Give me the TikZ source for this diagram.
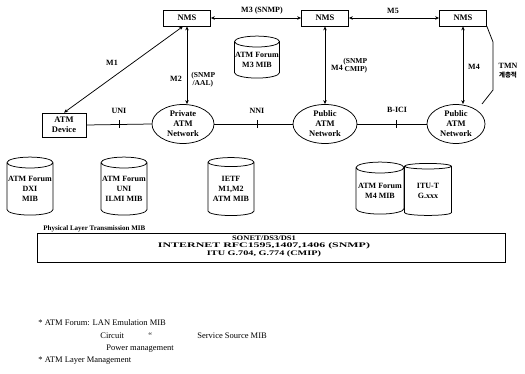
\documentclass[tikz,border=0pt]{standalone}
\usepackage{fontspec}
\usepackage{graphicx}
\setmainfont{Liberation Serif}
\newfontfamily\krfont{Noto Sans CJK KR}
\usetikzlibrary{shapes.geometric,arrows.meta,calc}
\begin{document}
\begin{tikzpicture}[x=1pt,y=-1pt,line width=0.75pt,
  lbl/.style={font=\fontsize{8}{8}\selectfont\bfseries,inner sep=0pt,align=center},
  small/.style={font=\fontsize{7.5}{8}\selectfont\bfseries,inner sep=0pt,align=left},
  nms/.style={draw,minimum width=47pt,minimum height=16pt,inner sep=0pt,font=\fontsize{8.5}{10}\selectfont\bfseries},
  dev/.style={draw,minimum width=44pt,minimum height=24pt,inner sep=0pt,align=center,font=\fontsize{8.5}{10}\selectfont\bfseries},
  net/.style={draw,ellipse,minimum height=39pt,inner sep=0pt,align=center,font=\fontsize{8.5}{10}\selectfont\bfseries},
  db/.style={draw,cylinder,shape border rotate=90,aspect=0.25,minimum width=46pt,minimum height=58pt,inner sep=0pt,align=center,font=\fontsize{8}{10}\selectfont\bfseries},
  biarrow/.style={{Stealth[length=4pt,width=3.5pt]}-{Stealth[length=4pt,width=3.5pt]}},
  body/.style={font=\fontsize{8.5}{10}\selectfont,inner sep=0pt,anchor=base west}
]
\useasboundingbox (0,0) rectangle (525,374);

% NMS boxes
\node[nms] (nms1) at (187,18) {NMS};
\node[nms] (nms2) at (325,18) {NMS};
\node[nms] (nms3) at (463,18) {NMS};

% devices and networks
\node[dev] (atm) at (64,125) {ATM\\Device};
\node[net,minimum width=62pt] (priv) at (183,124) {Private\\ATM\\Network};
\node[net,minimum width=64pt] (pub1) at (325,124) {Public\\ATM\\Network};
\node[net,minimum width=58pt] (pub2) at (456,124) {Public\\ATM\\Network};

% management links
\draw[biarrow] (nms1) -- (nms2);
\node[lbl] (m3l) at (262,11) {M3 (SNMP)};
\draw[biarrow] (nms2) -- (nms3);
\node[lbl] (m5l) at (393,11) {M5};
\draw[biarrow] ([xshift=-4pt]nms1.south) -- (atm.north);
\node[lbl] (m1l) at (112,63) {M1};
\draw[biarrow] (nms1.south) -- (priv.north -| nms1.south);
\node[lbl] (m2l) at (176,79) {M2};
\node[small,anchor=west] (m2p) at (191,80) {(SNMP\\\,/AAL)};
\draw[biarrow] (nms2.south) -- (pub1.north);
\node[lbl] (m4l) at (337,68) {M4};
\node[small,anchor=west] (m4p) at (343,66) {(SNMP\\\,CMIP)};
\draw[biarrow] (nms3.south) -- (pub2.north -| nms3.south);
\node[lbl] (m4r) at (474,67) {M4};

% TMN bracket
\coordinate (tb1) at (493,42);
\coordinate (tb2) at (493,90);
\coordinate (tb3) at (482,104);
\draw (nms3.south east) -- (tb1) -- (tb2) -- (tb3);
\node[lbl] (tmn) at (508,66) {TMN};
\node[inner sep=0pt,font=\krfont\fontsize{6.5}{7}\selectfont\bfseries] (tmnk) at (508,75) {계층적};

% interfaces
\draw (atm.east) -- (priv.west);
\draw (priv.east) -- (pub1.west);
\draw (pub1.east) -- (pub2.west);
\coordinate (k1) at ($(atm.east)!0.5!(priv.west)$);
\coordinate (k2) at ($(priv.east)!0.55!(pub1.west)$);
\coordinate (k3) at ($(pub1.east)!0.57!(pub2.west)$);
\draw ([yshift=4pt]k1) -- ([yshift=-4pt]k1);
\draw ([yshift=4pt]k2) -- ([yshift=-4pt]k2);
\draw ([yshift=4pt]k3) -- ([yshift=-4pt]k3);
\node[lbl] (unil) at (119,111) {UNI};
\node[lbl] (nnil) at (257,111) {NNI};
\node[lbl] (bicil) at (397,110) {B-ICI};

% MIB databases
\node[db,minimum width=45pt,minimum height=42pt] (m3mib) at (257,60) {ATM Forum\\M3 MIB};
\node[db] (dxi) at (30,189) {ATM Forum\\DXI\\MIB};
\node[db] (ilmi) at (124,189) {ATM Forum\\UNI\\ILMI MIB};
\node[db] (ietf) at (231,189) {IETF\\M1,M2\\ATM MIB};
\node[db,minimum width=48pt,minimum height=52pt] (m4mib) at (380,191) {ATM Forum\\M4 MIB};
\node[db,minimum width=47pt,minimum height=52pt] (itu) at (428,191) {ITU-T\\G.xxx};

% physical layer
\node[inner sep=0pt,anchor=base west,font=\fontsize{7}{8}\selectfont\bfseries] (phyl) at (43,231) {Physical Layer Transmission MIB};
\node[draw,anchor=north west,minimum width=468pt,minimum height=29pt,inner sep=0pt] (phy) at (37,233) {};
\node[inner sep=0pt,align=center,font=\fontsize{7}{7.5}\selectfont\bfseries] (phyt) at (264,246)
  {\resizebox{64pt}{\height}{SONET/DS3/DS1}\\
   \resizebox{212pt}{\height}{INTERNET RFC1595,1407,1406 (SNMP)}\\
   \resizebox{114pt}{\height}{ITU G.704, G.774 (CMIP)}};

% notes
\node[body] (n1) at (38,325) {* ATM Forum: LAN Emulation MIB};
\node[body] (n2) at (100,338) {Circuit};
\node[body] (n2b) at (148,338) {``};
\node[body] (n2c) at (197,338) {Service Source MIB};
\node[body] (n3) at (106,350) {Power management};
\node[body] (n4) at (38,362) {* ATM Layer Management};
\end{tikzpicture}
\end{document}
